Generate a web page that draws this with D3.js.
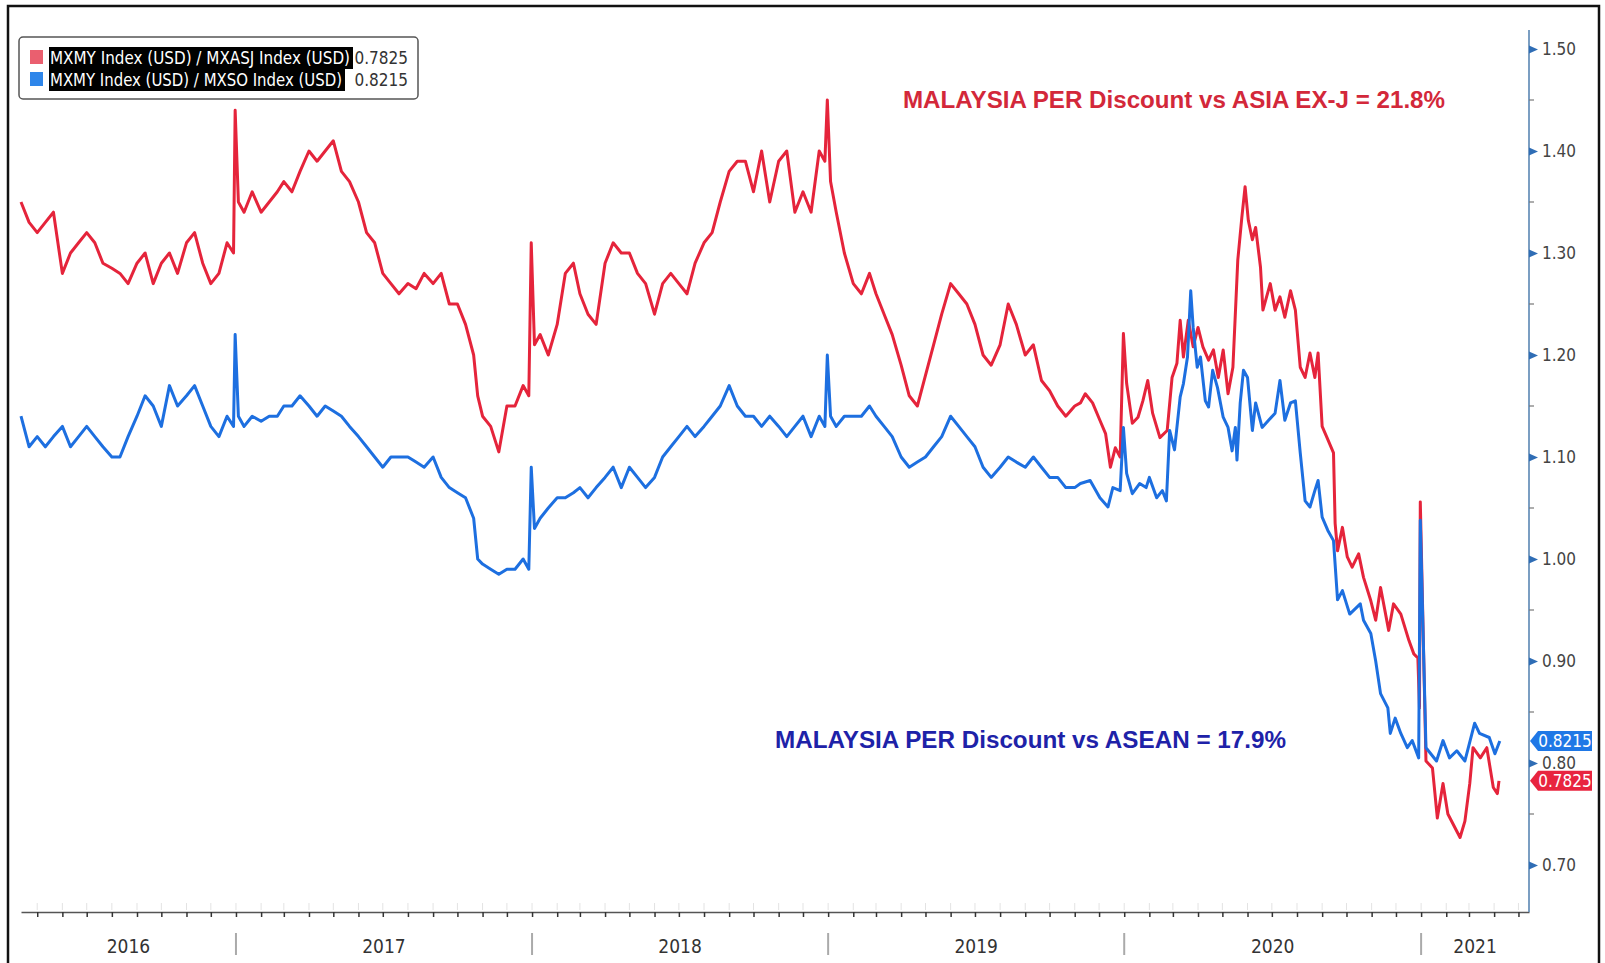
<!DOCTYPE html>
<html>
<head>
<meta charset="utf-8">
<script src="https://cdnjs.cloudflare.com/ajax/libs/d3/7.8.5/d3.min.js"></script>
<style>
  body { margin: 0; background: #fff; }
  svg { display: block; }
</style>
</head>
<body>
<svg id="chart" width="1605" height="963"></svg>
<script>
// ---------- data ----------
// shared sampling dates, Apr 2016 -> Nov 2019
const gridDates = [
  "2016-04-11","2016-04-21","2016-05-01","2016-05-11","2016-05-21","2016-06-01","2016-06-11","2016-06-21",
  "2016-07-01","2016-07-11","2016-07-21","2016-08-01","2016-08-11","2016-08-21","2016-09-01","2016-09-11",
  "2016-09-21","2016-10-01","2016-10-11","2016-10-21","2016-11-01","2016-11-11","2016-11-21","2016-12-01",
  "2016-12-11","2016-12-21","2016-12-29","2016-12-31",
  "2017-01-04","2017-01-11","2017-01-21","2017-02-01","2017-02-11","2017-02-21","2017-03-01","2017-03-11","2017-03-21",
  "2017-04-01","2017-04-11","2017-04-21","2017-05-01","2017-05-11","2017-05-21","2017-06-01","2017-06-11","2017-06-21",
  "2017-07-01","2017-07-11","2017-07-21","2017-08-01","2017-08-11","2017-08-21","2017-09-01","2017-09-11","2017-09-21",
  "2017-10-01","2017-10-11","2017-10-21","2017-10-26","2017-11-01","2017-11-11","2017-11-21",
  "2017-12-01","2017-12-11","2017-12-21","2017-12-28","2017-12-31",
  "2018-01-04","2018-01-11","2018-01-21","2018-02-01","2018-02-11","2018-02-21","2018-03-01","2018-03-11","2018-03-21",
  "2018-04-01","2018-04-11","2018-04-21","2018-05-01","2018-05-11","2018-05-21","2018-06-01","2018-06-11","2018-06-21",
  "2018-07-01","2018-07-11","2018-07-21","2018-08-01","2018-08-11","2018-08-21","2018-09-01","2018-09-11","2018-09-21",
  "2018-10-01","2018-10-11","2018-10-21","2018-11-01","2018-11-11","2018-11-21",
  "2018-12-01","2018-12-11","2018-12-21","2018-12-28","2018-12-31",
  "2019-01-04","2019-01-11","2019-01-21","2019-02-01","2019-02-11","2019-02-21","2019-03-01","2019-03-11","2019-03-21",
  "2019-04-01","2019-04-11","2019-04-21","2019-05-01","2019-05-11","2019-05-21","2019-06-01","2019-06-11","2019-06-21",
  "2019-07-01","2019-07-11","2019-07-21","2019-08-01","2019-08-11","2019-08-21","2019-09-01","2019-09-11","2019-09-21",
  "2019-10-01","2019-10-11","2019-10-21","2019-11-01"
];

// MXMY / MXASJ (red)
const asiaGrid = [
  1.35,1.33,1.32,1.33,1.34,1.28,1.30,1.31, 1.32,1.31,1.29,1.285,1.28,1.27,1.29,1.30,
  1.27,1.29,1.30,1.28,1.31,1.32,1.29,1.27, 1.28,1.31,1.30,1.44,
  1.35,1.34,1.36, 1.34,1.35,1.36, 1.37,1.36,1.38, 1.40,1.39,1.40, 1.41,1.38,1.37, 1.35,1.32,1.31,
  1.28,1.27,1.26, 1.27,1.265,1.28, 1.27,1.28,1.25, 1.25,1.23,1.20,1.16, 1.14,1.13,1.105,
  1.15,1.15,1.17,1.16,1.31,
  1.21,1.22,1.20, 1.23,1.28,1.29, 1.26,1.24,1.23, 1.29,1.31,1.30, 1.30,1.28,1.27, 1.24,1.27,1.28,
  1.27,1.26,1.29, 1.31,1.32,1.35, 1.38,1.39,1.39, 1.36,1.40,1.35, 1.39,1.40,1.34,
  1.36,1.34,1.40,1.39,1.45,
  1.37,1.34,1.30, 1.27,1.26,1.28, 1.26,1.24,1.22, 1.19,1.16,1.15, 1.18,1.21,1.24, 1.27,1.26,1.25,
  1.23,1.20,1.19, 1.21,1.25,1.23, 1.20,1.21,1.175, 1.165,1.15,1.14,1.15
];

// MXMY / MXSO (blue)
const aseanGrid = [
  1.14,1.11,1.12,1.11,1.12,1.13,1.11,1.12, 1.13,1.12,1.11,1.10,1.10,1.12,1.14,1.16,
  1.15,1.13,1.17,1.15,1.16,1.17,1.15,1.13, 1.12,1.14,1.13,1.22,
  1.14,1.13,1.14, 1.135,1.14,1.14, 1.15,1.15,1.16, 1.15,1.14,1.15, 1.145,1.14,1.13, 1.12,1.11,1.10,
  1.09,1.10,1.10, 1.10,1.095,1.09, 1.10,1.08,1.07, 1.065,1.06,1.04,1.00, 0.995,0.99,0.985,
  0.99,0.99,1.00,0.99,1.09,
  1.03,1.04,1.05, 1.06,1.06,1.065, 1.07,1.06,1.07, 1.08,1.09,1.07, 1.09,1.08,1.07, 1.08,1.10,1.11,
  1.12,1.13,1.12, 1.13,1.14,1.15, 1.17,1.15,1.14, 1.14,1.13,1.14, 1.13,1.12,1.13,
  1.14,1.12,1.14,1.13,1.20,
  1.14,1.13,1.14, 1.14,1.14,1.15, 1.14,1.13,1.12, 1.10,1.09,1.095, 1.10,1.11,1.12, 1.14,1.13,1.12,
  1.11,1.09,1.08, 1.09,1.10,1.095, 1.09,1.10,1.09, 1.08,1.08,1.07,1.07
];

// Nov 2019 -> Apr 2021, read at a finer step
const asiaTailDates = [
  "2019-11-08","2019-11-14","2019-11-23","2019-12-02","2019-12-09","2019-12-15","2019-12-21","2019-12-27","2019-12-31",
  "2020-01-04","2020-01-11","2020-01-18","2020-01-24","2020-01-30",
  "2020-02-05","2020-02-14","2020-02-23","2020-02-29",
  "2020-03-06","2020-03-10","2020-03-14","2020-03-20","2020-03-26",
  "2020-04-01","2020-04-07","2020-04-14","2020-04-20","2020-04-26",
  "2020-05-02","2020-05-08","2020-05-14","2020-05-20","2020-05-25","2020-05-29",
  "2020-06-02","2020-06-07","2020-06-11","2020-06-17","2020-06-20","2020-06-29",
  "2020-07-05","2020-07-11","2020-07-17","2020-07-24","2020-07-30",
  "2020-08-05","2020-08-11","2020-08-17","2020-08-23","2020-08-27",
  "2020-09-01","2020-09-07","2020-09-15","2020-09-17","2020-09-20","2020-09-26",
  "2020-10-02","2020-10-08","2020-10-16","2020-10-22","2020-10-31",
  "2020-11-06","2020-11-12","2020-11-22","2020-11-28",
  "2020-12-07","2020-12-17","2020-12-23","2020-12-28","2020-12-30","2020-12-31",
  "2021-01-07","2021-01-15","2021-01-21","2021-01-28",
  "2021-02-03","2021-02-18","2021-02-24",
  "2021-03-02","2021-03-06","2021-03-15","2021-03-23","2021-03-31",
  "2021-04-05","2021-04-07"
];
const asiaTail = [
  1.153,1.162,1.153,1.136,1.123,1.09,1.109,1.10,1.221,
  1.172,1.133,1.139,1.155,1.175,
  1.143,1.119,1.126,1.178,
  1.192,1.234,1.198,1.234,1.208,
  1.227,1.208,1.195,1.205,1.178,
  1.205,1.162,1.188,1.293,1.335,1.365,
  1.332,1.313,1.325,1.286,1.244,1.270,
  1.244,1.257,1.237,1.263,1.244,
  1.188,1.178,1.202,1.178,1.202,
  1.13,1.119,1.104,1.035,1.008,1.031,
  1.002,0.992,1.005,0.982,0.959,
  0.940,0.972,0.930,0.956,
  0.946,0.920,0.907,0.903,0.854,1.056,
  0.802,0.795,0.746,0.780,
  0.750,0.727,0.743,
  0.780,0.815,0.805,0.815,0.776,
  0.770,0.7825
];

const aseanTailDates = [
  "2019-11-08","2019-11-20","2019-12-02","2019-12-12","2019-12-18","2019-12-27","2019-12-31",
  "2020-01-04","2020-01-11","2020-01-20","2020-01-28",
  "2020-02-01","2020-02-10","2020-02-17","2020-02-22","2020-02-26",
  "2020-03-03","2020-03-10","2020-03-14","2020-03-19","2020-03-23","2020-03-26","2020-03-31",
  "2020-04-04","2020-04-10","2020-04-14","2020-04-19","2020-04-25",
  "2020-05-02","2020-05-08","2020-05-13","2020-05-17","2020-05-19","2020-05-23","2020-05-27",
  "2020-06-01","2020-06-07","2020-06-11","2020-06-19","2020-06-27",
  "2020-07-05","2020-07-11","2020-07-17","2020-07-24","2020-07-30",
  "2020-08-05","2020-08-11","2020-08-17","2020-08-23","2020-08-27",
  "2020-09-01","2020-09-08","2020-09-15","2020-09-20","2020-09-26",
  "2020-10-05","2020-10-18","2020-10-22","2020-10-31",
  "2020-11-06","2020-11-12","2020-11-21","2020-11-24","2020-11-30",
  "2020-12-07","2020-12-15","2020-12-21","2020-12-29","2020-12-31",
  "2021-01-07","2021-01-20","2021-01-28",
  "2021-02-05","2021-02-14","2021-02-24",
  "2021-03-08","2021-03-14","2021-03-26",
  "2021-04-02","2021-04-08"
];
const aseanTail = [
  1.074,1.077,1.060,1.051,1.070,1.067,1.129,
  1.084,1.064,1.074,1.070,
  1.080,1.060,1.067,1.057,1.126,
  1.107,1.159,1.172,1.198,1.263,1.227,1.188,
  1.198,1.155,1.149,1.185,1.168,
  1.139,1.129,1.106,1.129,1.097,1.153,1.185,
  1.178,1.126,1.153,1.129,1.136,
  1.143,1.175,1.136,1.153,1.155,
  1.104,1.057,1.051,1.067,1.077,
  1.041,1.028,1.018,0.960,0.969,
  0.946,0.956,0.940,0.927,
  0.900,0.868,0.854,0.829,0.844,
  0.829,0.815,0.822,0.805,1.038,
  0.815,0.802,0.822,
  0.805,0.812,0.802,
  0.839,0.829,0.825,
  0.809,0.8215
];

const yTicks = [0.70, 0.80, 0.90, 1.00, 1.10, 1.20, 1.30, 1.40, 1.50];
const yMinorTicks = [0.75, 0.85, 0.95, 1.05, 1.15, 1.25, 1.35, 1.45];
const years = [2016, 2017, 2018, 2019, 2020, 2021];
const seriesNames = ["MXMY Index (USD) / MXASJ Index (USD)", "MXMY Index (USD) / MXSO Index (USD)"];
const lastValues = ["0.7825", "0.8215"];
const notes = ["MALAYSIA PER Discount vs ASIA EX-J = 21.8%", "MALAYSIA PER Discount vs ASEAN = 17.9%"];

// ---------- setup ----------
const parse = d3.timeParse("%Y-%m-%d");
const red = "#e5243b", blue = "#1d6fe0";
const narrow = "'Liberation Sans Narrow', 'DejaVu Sans Condensed', sans-serif";

const plot = { left: 21, right: 1529, top: 30, bottom: 912 };

const x = d3.scaleTime()
  .domain([parse("2016-04-11"), parse("2021-05-14")])
  .range([plot.left, plot.right]);
const y = d3.scaleLinear().domain([0.70, 1.50]).range([865, 49]);

const svg = d3.select("#chart");

// outer frame
svg.append("rect")
  .attr("x", 8).attr("y", 6).attr("width", 1591).attr("height", 990)
  .attr("fill", "#fff").attr("stroke", "#111").attr("stroke-width", 2.5);

function toPoints(dates, values) {
  if (dates.length !== values.length) console.error("length mismatch", dates.length, values.length);
  return dates.map((d, i) => ({ date: parse(d), v: values[i] }));
}
const asiaData = toPoints(gridDates.concat(asiaTailDates), asiaGrid.concat(asiaTail));
const aseanData = toPoints(gridDates.concat(aseanTailDates), aseanGrid.concat(aseanTail));

/* ---------- x axis ---------- */
const xAxis = d3.axisBottom(x)
  .ticks(d3.timeMonth.every(1))
  .tickSize(5).tickSizeOuter(0)
  .tickFormat("");
const gx = svg.append("g").attr("transform", `translate(0,${plot.bottom})`).call(xAxis);
gx.select(".domain").attr("stroke", "#555").attr("stroke-width", 1.6);
gx.selectAll(".tick line").attr("stroke", "#333").attr("stroke-width", 1.5);

// faint month marks above the axis
svg.append("g").selectAll("line")
  .data(x.ticks(d3.timeMonth.every(1)))
  .join("line")
  .attr("x1", d => x(d)).attr("x2", d => x(d))
  .attr("y1", plot.bottom - 9).attr("y2", plot.bottom - 2)
  .attr("stroke", "#e3e3e3").attr("stroke-width", 1);

// year separators and labels
const [d0, d1] = x.domain();
svg.append("g").selectAll("line")
  .data(years.slice(1))
  .join("line")
  .attr("x1", d => x(new Date(d, 0, 1))).attr("x2", d => x(new Date(d, 0, 1)))
  .attr("y1", 933).attr("y2", 955)
  .attr("stroke", "#aaa").attr("stroke-width", 2);

svg.append("g").selectAll("text")
  .data(years)
  .join("text")
  .attr("x", d => {
    const a = Math.max(+d0, +new Date(d, 0, 1));
    const b = Math.min(+d1, +new Date(d + 1, 0, 1));
    return (x(new Date(a)) + x(new Date(b))) / 2;
  })
  .attr("y", 953)
  .attr("text-anchor", "middle")
  .attr("font-family", narrow)
  .attr("font-size", 19)
  .attr("fill", "#333")
  .text(d => d);

/* ---------- y axis (right) ---------- */
svg.append("line")
  .attr("x1", plot.right).attr("x2", plot.right)
  .attr("y1", plot.top).attr("y2", plot.bottom)
  .attr("stroke", "#5a86b3").attr("stroke-width", 1.6);

svg.append("g").selectAll("line")
  .data(yMinorTicks)
  .join("line")
  .attr("x1", plot.right).attr("x2", plot.right + 5)
  .attr("y1", d => y(d)).attr("y2", d => y(d))
  .attr("stroke", "#777").attr("stroke-width", 1.2);

const yAxis = d3.axisRight(y)
  .tickValues(yTicks)
  .tickSize(0)
  .tickPadding(13)
  .tickFormat(d3.format(".2f"));
const gy = svg.append("g").attr("transform", `translate(${plot.right},0)`).call(yAxis);
gy.select(".domain").remove();
gy.selectAll(".tick text")
  .attr("font-family", narrow)
  .attr("font-size", 17)
  .attr("fill", "#444");
gy.selectAll(".tick").append("path")
  .attr("d", "M0,-4L9,0L0,4Z")
  .attr("fill", "#2f6db5");

/* ---------- lines ---------- */
const line = d3.line()
  .x(d => x(d.date))
  .y(d => y(d.v));

svg.append("path")
  .datum(asiaData)
  .attr("d", line)
  .attr("fill", "none")
  .attr("stroke", red)
  .attr("stroke-width", 3)
  .attr("stroke-linejoin", "round");

svg.append("path")
  .datum(aseanData)
  .attr("d", line)
  .attr("fill", "none")
  .attr("stroke", blue)
  .attr("stroke-width", 3)
  .attr("stroke-linejoin", "round");

/* ---------- last value tags ---------- */
const tags = [
  { v: asiaData[asiaData.length - 1].v, label: lastValues[0], color: "#e8243f" },
  { v: aseanData[aseanData.length - 1].v, label: lastValues[1], color: "#1f78e6" }
];
const tag = svg.append("g").selectAll("g")
  .data(tags)
  .join("g")
  .attr("transform", d => `translate(${plot.right + 1},${y(d.v)})`);
tag.append("path")
  .attr("d", "M0,0L8,-10L62,-10L62,10L8,10Z")
  .attr("fill", d => d.color);
tag.append("text")
  .attr("x", 35).attr("y", 6)
  .attr("text-anchor", "middle")
  .attr("font-family", narrow)
  .attr("font-size", 17)
  .attr("fill", "#fff")
  .text(d => d.label);

/* ---------- legend ---------- */
const legend = svg.append("g");
legend.append("rect")
  .attr("x", 19).attr("y", 37).attr("width", 399).attr("height", 62)
  .attr("rx", 4)
  .attr("fill", "#fff").attr("stroke", "#555").attr("stroke-width", 1.5);

const legendRows = [
  { name: seriesNames[0], value: lastValues[0], swatch: "#ea5f6f", w: 304 },
  { name: seriesNames[1], value: lastValues[1], swatch: "#2e86ea", w: 296 }
];
const row = legend.selectAll("g")
  .data(legendRows)
  .join("g")
  .attr("transform", (d, i) => `translate(0,${47 + i * 22})`);
row.append("rect")
  .attr("x", 30).attr("y", 3).attr("width", 13).attr("height", 14)
  .attr("fill", d => d.swatch);
row.append("rect")
  .attr("x", 49).attr("y", 0).attr("width", d => d.w).attr("height", 22)
  .attr("fill", "#000");
row.append("text")
  .attr("x", 50).attr("y", 17)
  .attr("font-family", narrow)
  .attr("font-size", 17)
  .attr("fill", "#fff")
  .attr("textLength", d => d.w - 4)
  .attr("lengthAdjust", "spacingAndGlyphs")
  .text(d => d.name);
row.append("text")
  .attr("x", 408).attr("y", 17)
  .attr("text-anchor", "end")
  .attr("font-family", narrow)
  .attr("font-size", 17)
  .attr("fill", "#333")
  .text(d => d.value);

/* ---------- annotations ---------- */
svg.append("text")
  .attr("x", 903).attr("y", 108)
  .attr("font-family", "'Liberation Sans', Arial, sans-serif")
  .attr("font-weight", "bold")
  .attr("font-size", 23)
  .attr("fill", "#d3283a")
  .attr("textLength", 542)
  .attr("lengthAdjust", "spacingAndGlyphs")
  .text(notes[0]);

svg.append("text")
  .attr("x", 775).attr("y", 748)
  .attr("font-family", "'Liberation Sans', Arial, sans-serif")
  .attr("font-weight", "bold")
  .attr("font-size", 23)
  .attr("fill", "#1e22a8")
  .attr("textLength", 511)
  .attr("lengthAdjust", "spacingAndGlyphs")
  .text(notes[1]);
</script>
</body>
</html>
